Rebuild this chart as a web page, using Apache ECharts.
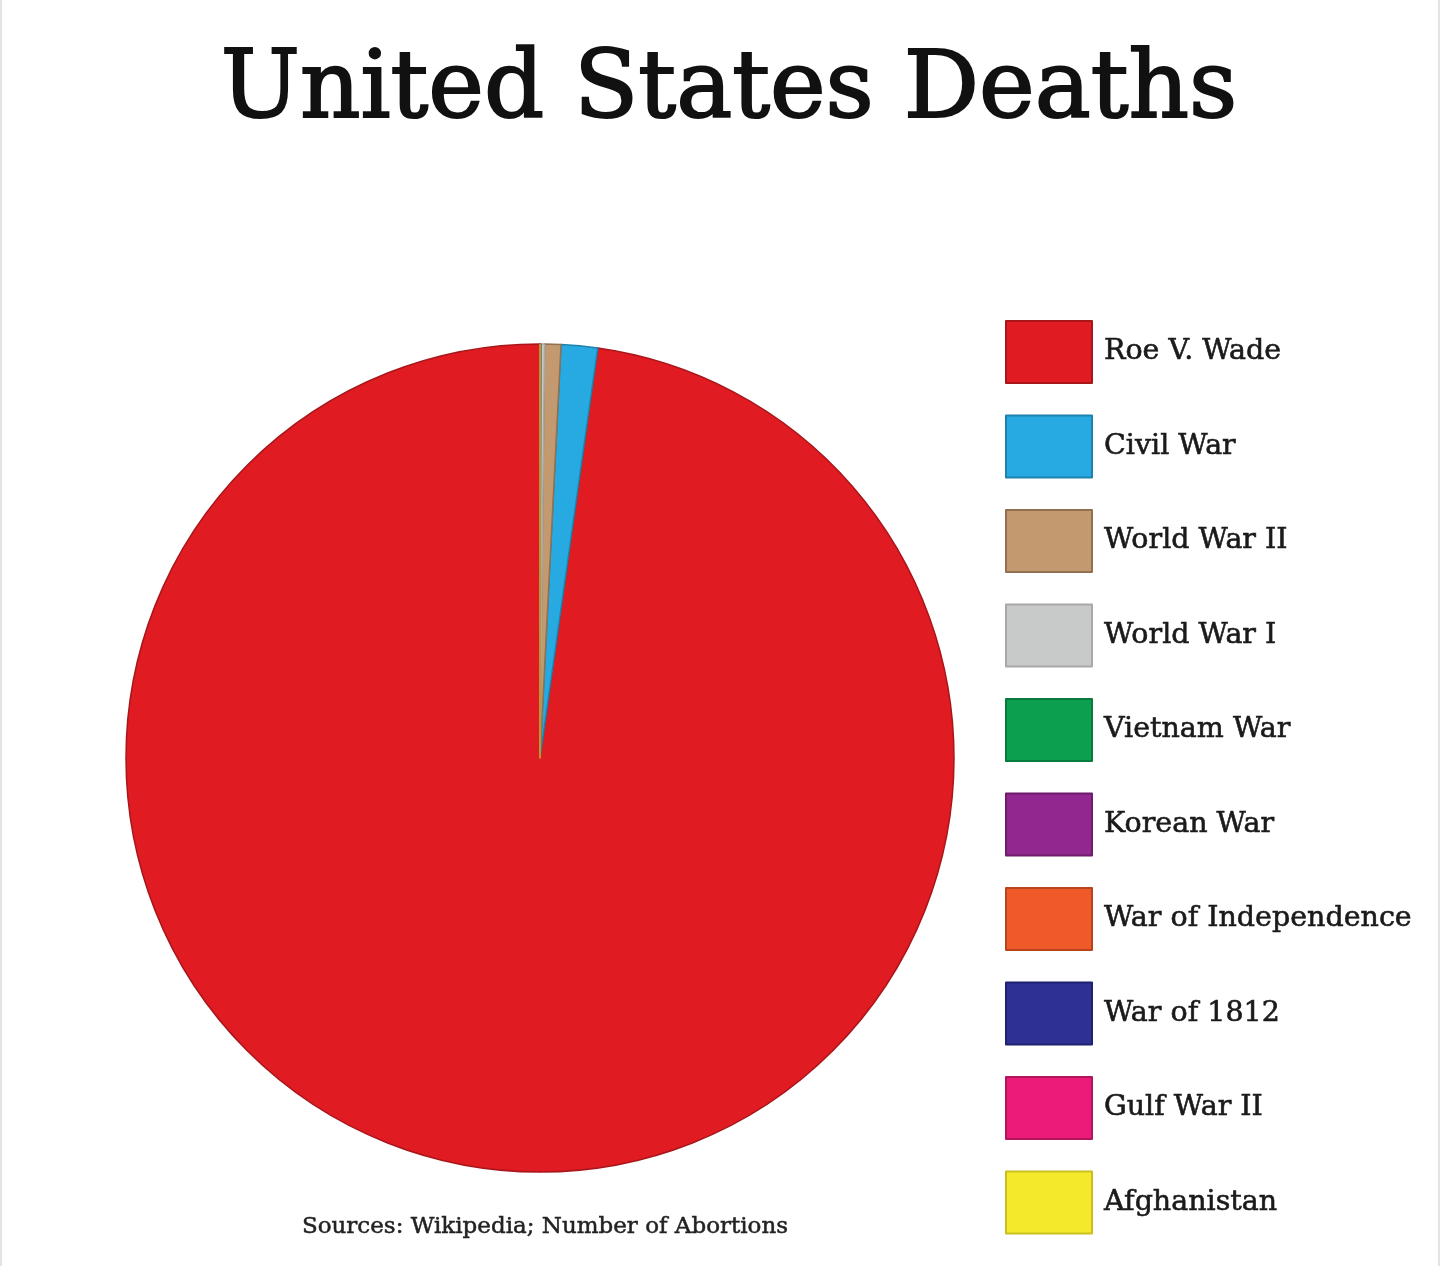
<!DOCTYPE html>
<html>
<head>
<meta charset="utf-8">
<script src="https://cdn.jsdelivr.net/npm/echarts@6/dist/echarts.min.js"></script>
<style>
html,body{margin:0;padding:0;background:#fff;}
#chart{width:1440px;height:1266px;box-sizing:border-box;border-left:2px solid #e4e4e4;border-right:2px solid #e4e4e4;}
</style>
</head>
<body>
<div id="chart"></div>
<script>
const titleText = 'United States Deaths';
const sourceText = 'Sources: Wikipedia; Number of Abortions';
const categories = ['Roe V. Wade','Civil War','World War II','World War I','Vietnam War','Korean War','War of Independence','War of 1812','Gulf War II','Afghanistan'];
const deaths = [60000000, 870000, 390000, 90000, 6000, 4000, 3000, 2000, 1000, 500];
const colors = ['#e11b22','#27a9e1','#c39a6f','#c8c9c9','#0c9f4f','#92278f','#f05a28','#2e3192','#ec1b7a','#f4ea2b'];
const borders = ['#a8161b','#1d82ad','#93704f','#a8a8a8','#087a3c','#6d1d6b','#b8441e','#1f2170','#b3155c','#c9c020'];

const chart = echarts.init(document.getElementById('chart'));
chart.setOption({
  animation: false,
  backgroundColor: '#ffffff',
  title: [{
    text: titleText,
    left: 722, top: 41, textAlign: 'center',
    textStyle: {fontFamily: 'DejaVu Serif', fontSize: 94, fontWeight: 'normal', color: '#111',
      textBorderColor: '#111', textBorderWidth: 2}
  },{
    text: sourceText,
    left: 538, top: 1211, textAlign: 'center',
    textStyle: {fontFamily: 'DejaVu Serif', fontSize: 23, fontWeight: 'normal', color: '#222',
      textBorderColor: '#222', textBorderWidth: 0.5}
  }],
  legend: {
    orient: 'vertical',
    left: 1003, top: 320,
    padding: 0,
    itemWidth: 86, itemHeight: 62, itemGap: 30.5,
    icon: 'rect',
    selectedMode: false,
    textStyle: {fontFamily: 'DejaVu Serif', fontSize: 28.5, color: '#1a1a1a', padding: [0,0,0,7],
      textBorderColor: '#1a1a1a', textBorderWidth: 0.6},
    data: categories
  },
  series: [{
    type: 'pie',
    center: [538, 758],
    radius: 414,
    startAngle: 90,
    clockwise: false,
    label: {show: false},
    labelLine: {show: false},
    silent: true,
    data: categories.map((n, i) => ({
      name: n, value: deaths[i],
      itemStyle: {color: colors[i], borderColor: borders[i], borderWidth: 1.5}
    }))
  }]
});
</script>
</body>
</html>
